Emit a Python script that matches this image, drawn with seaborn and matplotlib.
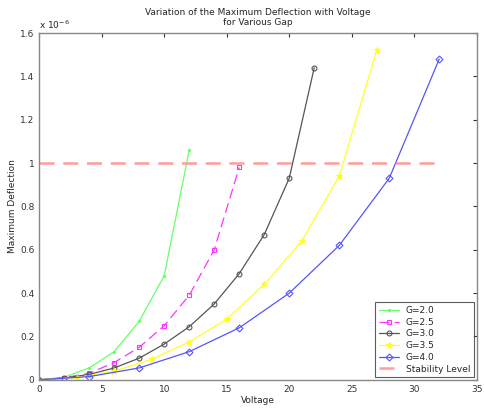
import pandas as pd
import matplotlib.pyplot as plt
import seaborn as sns

# Maximum deflection values in units of 1e-6
v_g20 = [0, 2, 4, 6, 8, 10, 12]
d_g20 = [0, 0.012, 0.055, 0.13, 0.27, 0.48, 1.06]

v_g25 = [0, 2, 4, 6, 8, 10, 12, 14, 16]
d_g25 = [0, 0.01, 0.03, 0.08, 0.15, 0.25, 0.39, 0.60, 0.98]

v_g30 = [0, 2, 4, 6, 8, 10, 12, 14, 16, 18, 20, 22]
d_g30 = [0, 0.008, 0.025, 0.055, 0.10, 0.165, 0.245, 0.35, 0.49, 0.67, 0.93, 1.44]

v_g35 = [0, 3, 6, 9, 12, 15, 18, 21, 24, 27]
d_g35 = [0, 0.01, 0.04, 0.095, 0.175, 0.28, 0.44, 0.64, 0.94, 1.52]

v_g40 = [0, 4, 8, 12, 16, 20, 24, 28, 32]
d_g40 = [0, 0.015, 0.055, 0.13, 0.24, 0.40, 0.62, 0.93, 1.48]

stability_v = [0, 32]
stability_d = [1.0, 1.0]

series = [
    ("G=2.0", v_g20, d_g20, "#66ff66", ".", "-", 3, True),
    ("G=2.5", v_g25, d_g25, "#ff33ff", "s", (0, (8, 4)), 3, False),
    ("G=3.0", v_g30, d_g30, "#555555", "o", "-", 3.5, False),
    ("G=3.5", v_g35, d_g35, "#ffff22", "*", "-", 5, True),
    ("G=4.0", v_g40, d_g40, "#5555ff", "D", "-", 3.5, False),
]

sns.set_style("white")
plt.rcParams.update({
    'font.family': ['DejaVu Sans'],
    'font.size': 6.5,
})

fig, ax = plt.subplots(figsize=(4.84, 4.08), dpi=100)
fig.subplots_adjust(left=0.081, right=0.985, top=0.919, bottom=0.069)

for label, v, d, color, marker, ls, ms, filled in series:
    df = pd.DataFrame({"Voltage": v, "Deflection": d})
    sns.lineplot(data=df, x="Voltage", y="Deflection", ax=ax, color=color,
                 marker=marker, markersize=ms,
                 markerfacecolor=color if filled else "none",
                 markeredgecolor=color, markeredgewidth=0.8,
                 linestyle=ls, linewidth=0.9, label=label)

df_s = pd.DataFrame({"Voltage": stability_v, "Deflection": stability_d})
sns.lineplot(data=df_s, x="Voltage", y="Deflection", ax=ax, color="#ff9c9c",
             linestyle=(0, (6, 3.5)), linewidth=1.8, label="Stability Level")

ax.set_xlim(0, 35)
ax.set_ylim(0, 1.6)
ax.set_xticks(range(0, 36, 5))
ax.set_yticks([0, 0.2, 0.4, 0.6, 0.8, 1.0, 1.2, 1.4, 1.6])
ax.set_yticklabels(["0", "0.2", "0.4", "0.6", "0.8", "1", "1.2", "1.4", "1.6"])
ax.tick_params(direction="in", length=3, colors="#333333", labelsize=6.5,
               top=True, right=True)
for sp in ax.spines.values():
    sp.set_color("#888888")
    sp.set_linewidth(1.0)

ax.set_xlabel("Voltage", fontsize=6.5, labelpad=2)
ax.set_ylabel("Maximum Deflection", fontsize=6.5, labelpad=2)
ax.set_title("Variation of the Maximum Deflection with Voltage\nfor Various Gap",
             fontsize=6.5, pad=6, linespacing=1.1)
ax.text(0.0, 1.005, "x 10$^{-6}$", transform=ax.transAxes, fontsize=6.5,
        ha="left", va="bottom")

leg = ax.legend(loc="lower right", fontsize=6.5, frameon=True, fancybox=False,
                borderaxespad=0.3, handlelength=2.2, labelspacing=0.3)
leg.get_frame().set_edgecolor("#333333")
leg.get_frame().set_linewidth(0.8)

fig.savefig("out.png", dpi=100, facecolor="white")
